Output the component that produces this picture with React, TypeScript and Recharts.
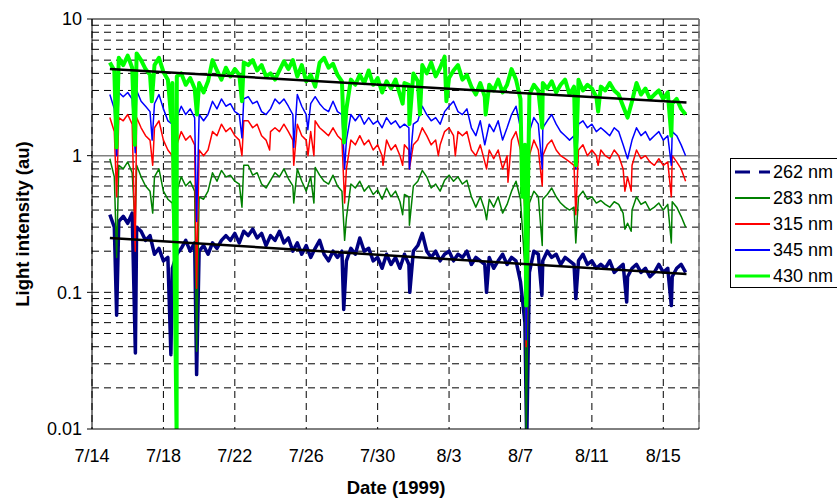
import { LineChart, Line, XAxis, YAxis, CartesianGrid, ReferenceLine } from "recharts";

// sample times, days after 7/14/1999
const days = [
  1, 1.25, 1.5, 1.75, 2, 2.25, 2.5, 2.75, 3, 3.25,
  3.5, 3.75, 4, 4.25, 4.5, 4.75, 5, 5.25, 5.5, 5.75,
  6, 6.25, 6.5, 6.75, 7, 7.25, 7.5, 7.75, 8, 8.25,
  8.5, 8.75, 9, 9.25, 9.5, 9.75, 10, 10.25, 10.5, 10.75,
  11, 11.25, 11.5, 11.75, 12, 12.25, 12.5, 12.75, 13, 13.25,
  13.5, 13.75, 14, 14.25, 14.5, 14.75, 15, 15.25, 15.5, 15.75,
  16, 16.25, 16.5, 16.75, 17, 17.25, 17.5, 17.75, 18, 18.25,
  18.5, 18.75, 19, 19.25, 19.5, 19.75, 20, 20.25, 20.5, 20.75,
  21, 21.25, 21.5, 21.75, 22, 22.25, 22.5, 22.75, 23, 23.25,
  23.5, 23.75, 24, 24.25, 24.5, 24.75, 25, 25.25, 25.5, 25.75,
  26, 26.25, 26.5, 26.75, 27, 27.25, 27.5, 27.75, 28, 28.25,
  28.5, 28.75, 29, 29.25, 29.5, 29.75, 30, 30.25, 30.5, 30.75,
  31, 31.25, 31.5, 31.75, 32, 32.25, 32.5, 32.75, 33, 33.25,
];

const nm430 = [
  4.8, 4.2, 5.2, 4.6, 5.4, 4.4, 5.6, 5.0, 4.3, 3.9,
  4.6, 5.2, 4.1, 3.6, 3.4, 3.8, 4.0, 3.3, 3.7, 3.1,
  3.4, 2.9, 3.5, 5.0, 4.2, 3.6, 4.4, 3.8, 4.3, 3.9,
  4.8, 4.6, 5.0, 4.2, 4.6, 3.8, 4.0, 3.6, 4.2, 4.9,
  4.3, 5.0, 3.8, 4.6, 3.5, 3.9, 3.2, 4.8, 5.2, 4.4,
  4.7, 3.9, 3.5, 2.2, 3.6, 3.3, 3.9, 3.4, 4.2, 3.3,
  3.7, 2.9, 3.5, 3.1, 3.6, 2.8, 3.4, 3.3, 4.0, 3.5,
  4.6, 4.0, 4.8, 3.8, 4.4, 5.3, 3.7, 4.2, 4.6, 3.6,
  3.9, 3.2, 2.8, 3.4, 2.7, 3.3, 3.0, 3.6, 2.9, 3.3,
  4.3, 3.6, 2.6, 1.2, 2.8, 3.3, 3.0, 3.4, 3.1, 3.5,
  2.9, 3.3, 3.6, 2.8, 3.2, 3.6, 3.0, 3.3, 3.1, 2.7,
  3.2, 3.0, 3.4, 3.0, 2.8, 2.3, 1.9, 2.5, 3.4, 2.8,
  3.1, 2.6, 2.8, 3.0, 2.6, 2.9, 2.4, 2.6, 2.2, 2.0,
];
const nm345 = [
  2.8, 2.2, 2.9, 2.7, 2.9, 2.6, 3.0, 2.5, 2.3, 2.1,
  2.4, 2.8, 2.2, 1.8, 1.7, 1.9, 2.3, 2.0, 2.2, 1.9,
  2.0, 1.8, 2.0, 2.5, 2.2, 2.6, 2.3, 2.4, 2.1, 2.0,
  2.6, 2.7, 2.4, 2.5, 2.1, 2.0, 2.2, 2.6, 2.4, 2.6,
  2.3, 2.0, 2.8, 2.3, 2.0, 2.4, 2.7, 2.4, 2.2, 2.1,
  2.5, 2.1, 2.0, 1.3, 2.0, 1.8, 2.0, 1.7, 1.9, 1.7,
  1.8, 1.6, 1.9, 1.7, 1.8, 1.6, 1.7, 1.6, 1.7, 1.8,
  2.3, 2.0, 1.8, 1.9, 1.7, 2.1, 2.3, 2.5, 2.1, 2.0,
  2.2, 1.6, 1.4, 1.8, 1.2, 1.7, 1.5, 1.8, 1.3, 1.6,
  2.0, 2.3, 1.6, 0.6, 1.5, 1.9, 1.7, 1.6, 1.8, 2.0,
  1.7, 1.5, 1.4, 1.3, 1.4, 1.7, 1.8, 1.6, 1.7, 1.5,
  1.6, 1.5, 1.4, 1.6, 1.5, 1.2, 0.95, 1.3, 1.6, 1.4,
  1.5, 1.3, 1.4, 1.5, 1.3, 1.4, 1.5, 1.4, 1.2, 1.0,
];
const nm315 = [
  1.9, 1.5, 1.9, 1.8, 2.0, 1.7, 1.9, 1.6, 1.4, 1.3,
  1.6, 1.8, 1.3, 1.1, 1.0, 1.2, 1.5, 1.3, 1.4, 1.2,
  1.1, 1.0, 1.1, 1.5, 1.4, 1.7, 1.5, 1.6, 1.4, 1.3,
  1.8, 1.8, 1.6, 1.7, 1.4, 1.3, 1.5, 1.6, 1.5, 1.7,
  1.5, 1.3, 1.7, 1.4, 1.3, 1.5, 1.8, 1.6, 1.5, 1.4,
  1.6, 1.4, 1.3, 0.8, 1.3, 1.2, 1.4, 1.2, 1.3, 1.1,
  1.2, 1.0, 1.3, 1.1, 1.2, 1.0, 1.2, 1.1, 1.2, 1.3,
  1.6, 1.4, 1.2, 1.3, 1.2, 1.5, 1.6, 1.4, 1.5, 1.4,
  1.5, 1.1, 1.0, 1.2, 0.9, 1.1, 0.95, 1.1, 0.8, 1.0,
  1.3, 1.5, 1.1, 0.4, 1.0, 1.3, 1.1, 1.0, 1.2, 1.3,
  1.1, 1.0, 0.95, 0.9, 0.85, 1.1, 1.2, 1.0, 1.1, 1.0,
  1.1, 1.0, 0.95, 1.1, 1.0, 0.8, 0.7, 0.85, 1.1, 0.95,
  1.0, 0.9, 0.85, 0.95, 0.85, 0.9, 1.0, 0.9, 0.8, 0.65,
];
const nm283 = [
  0.95, 0.7, 0.85, 0.8, 0.9, 0.75, 0.85, 0.7, 0.6, 0.55,
  0.7, 0.8, 0.55, 0.48, 0.45, 0.55, 0.7, 0.6, 0.65, 0.55,
  0.5, 0.48, 0.55, 0.75, 0.65, 0.78, 0.7, 0.72, 0.65, 0.62,
  0.85, 0.85, 0.72, 0.75, 0.62, 0.58, 0.66, 0.75, 0.7, 0.8,
  0.68, 0.6, 0.8, 0.65, 0.55, 0.7, 0.82, 0.72, 0.65, 0.62,
  0.72, 0.6, 0.55, 0.35, 0.62, 0.58, 0.65, 0.55, 0.6, 0.52,
  0.56, 0.48, 0.58, 0.5, 0.55, 0.46, 0.52, 0.5, 0.6, 0.65,
  0.78, 0.7, 0.58, 0.62, 0.55, 0.66, 0.72, 0.65, 0.7, 0.62,
  0.66, 0.5, 0.42, 0.5, 0.4, 0.48, 0.42, 0.5, 0.38, 0.44,
  0.55, 0.65, 0.48, 0.15, 0.45, 0.55, 0.5, 0.48, 0.52, 0.58,
  0.5, 0.45, 0.42, 0.4, 0.42, 0.5, 0.55, 0.48, 0.5, 0.45,
  0.47, 0.44, 0.42, 0.46, 0.44, 0.38, 0.32, 0.4, 0.5, 0.44,
  0.46, 0.4, 0.42, 0.45, 0.4, 0.44, 0.46, 0.42, 0.36, 0.3,
];
const nm262 = [
  0.37, 0.3, 0.33, 0.36, 0.32, 0.38, 0.3, 0.28, 0.24, 0.26,
  0.19, 0.21, 0.17, 0.18, 0.15, 0.19, 0.21, 0.24, 0.2, 0.23,
  0.2, 0.22, 0.19, 0.23, 0.21, 0.24, 0.26, 0.24, 0.27, 0.23,
  0.28, 0.26, 0.29, 0.25, 0.27, 0.22, 0.26, 0.24, 0.28, 0.23,
  0.25, 0.2, 0.23, 0.19, 0.22, 0.18, 0.21, 0.24, 0.19, 0.17,
  0.2, 0.18, 0.2, 0.17, 0.21, 0.19, 0.25, 0.2, 0.21, 0.17,
  0.18, 0.15, 0.19, 0.16, 0.18, 0.15, 0.19, 0.16, 0.2, 0.22,
  0.27, 0.2, 0.18, 0.2, 0.17, 0.19, 0.2, 0.17, 0.19, 0.18,
  0.2, 0.16, 0.18, 0.17, 0.16, 0.18, 0.15, 0.17, 0.19, 0.16,
  0.18, 0.17, 0.12, 0.06, 0.14, 0.2, 0.19, 0.17, 0.2, 0.18,
  0.19, 0.16, 0.18, 0.17, 0.16, 0.17, 0.19, 0.16, 0.17, 0.15,
  0.16, 0.15, 0.17, 0.14, 0.15, 0.16, 0.13, 0.15, 0.16, 0.14,
  0.15, 0.13, 0.14, 0.16, 0.14, 0.15, 0.13, 0.15, 0.16, 0.14,
];

// short drops between samples: [day, value]
const dips430 = [
  [1.37, 1.15], [2.4, 1.2], [3.35, 2.5], [4.45, 1.8], [4.74, 0.009], [5.88, 2.0],
  [8.4, 2.5], [14.12, 1.25], [17.4, 2.4], [17.78, 1.7], [18.37, 2.0], [19.85, 2.5],
  [22.05, 2.0], [24.1, 0.5], [24.32, 0.08], [25.22, 1.6], [27.1, 0.85], [28.35, 2.1],
  [32.45, 1.4],
];
const dips345 = [
  [1.38, 1.0], [2.42, 1.05], [3.37, 1.3], [4.52, 0.95], [5.86, 0.33], [8.4, 1.35],
  [11.3, 1.15], [12.09, 1.55], [14.15, 0.8], [17.78, 0.8], [24.32, 0.045], [25.22, 0.8],
  [27.1, 0.8], [32.45, 0.85],
];
const dips315 = [
  [1.38, 0.5], [2.42, 0.2], [3.4, 0.85], [4.52, 0.6], [5.86, 0.107], [8.4, 1.0],
  [9.95, 1.1], [11.3, 0.85], [12.1, 1.0], [12.43, 1.0], [14.15, 0.45], [16.3, 0.85],
  [17.4, 0.85], [17.78, 0.8], [19.4, 1.0], [20.35, 1.0], [22.1, 0.8], [23.3, 0.64],
  [24.32, 0.04], [25.22, 0.6], [27.1, 0.37], [28.35, 0.85], [29.85, 0.55], [30.2, 0.55],
  [32.45, 0.5],
];
const dips283 = [
  [1.38, 0.18], [2.42, 0.3], [3.4, 0.38], [4.52, 0.38], [5.86, 0.037], [8.4, 0.42],
  [11.3, 0.45], [12.43, 0.45], [14.15, 0.24], [17.4, 0.37], [17.78, 0.31], [22.1, 0.34],
  [24.32, 0.009], [25.22, 0.22], [27.1, 0.23], [29.85, 0.29], [30.2, 0.28], [32.45, 0.23],
];
const dips262 = [
  [1.38, 0.068], [2.43, 0.036], [4.42, 0.035], [5.86, 0.025], [14.1, 0.075], [17.8, 0.1],
  [22.1, 0.1], [24.35, 0.008], [25.2, 0.095], [27.1, 0.09], [29.95, 0.085], [32.45, 0.08],
];

// exponential fits (straight on the log axis)
const fit430 = [{ d: 1, v: 4.3 }, { d: 33.3, v: 2.45 }];
const fit262 = [{ d: 1, v: 0.25 }, { d: 33.3, v: 0.136 }];

const tickDays = [0, 4, 8, 12, 16, 20, 24, 28, 32];
const tickLabels = ["7/14", "7/18", "7/22", "7/26", "7/30", "8/3", "8/7", "8/11", "8/15"];
const yTicks = [0.01, 0.1, 1, 10];
const yTickLabels = ["0.01", "0.1", "1", "10"];
const minorGrid = [
  0.02, 0.03, 0.04, 0.05, 0.06, 0.07, 0.08, 0.09, 0.1,
  0.2, 0.3, 0.4, 0.5, 0.6, 0.7, 0.8, 0.9,
  2, 3, 4, 5, 6, 7, 8, 9,
];

const FONT = "Arial, 'Liberation Sans', sans-serif";

function toPoints(values: number[], dips: number[][]) {
  const pts = values.map((v, i) => ({ d: days[i], v }));
  dips.forEach(([d, v]) => pts.push({ d, v }));
  return pts.sort((a, b) => a.d - b.d);
}

const series = [
  { name: "262 nm", data: toPoints(nm262, dips262), color: "#000080", width: 3.5, dash: "15 9", legendWidth: 3 },
  { name: "283 nm", data: toPoints(nm283, dips283), color: "#008000", width: 1.5, dash: undefined, legendWidth: 2 },
  { name: "315 nm", data: toPoints(nm315, dips315), color: "#ff0000", width: 1.5, dash: undefined, legendWidth: 2 },
  { name: "345 nm", data: toPoints(nm345, dips345), color: "#0000ff", width: 1.5, dash: undefined, legendWidth: 2 },
  { name: "430 nm", data: toPoints(nm430, dips430), color: "#00ff00", width: 4, dash: undefined, legendWidth: 3 },
];

function ChartLegend() {
  return (
    <svg
      width={107}
      height={131}
      style={{ position: "absolute", left: 730, top: 158, overflow: "visible" }}
    >
      <rect x={0.5} y={0.5} width={120} height={129} fill="#fff" stroke="#000" strokeWidth={1} />
      {series.map((s, i) => {
        const y = 14 + i * 26;
        return (
          <g key={s.name}>
            <line x1={5} x2={40} y1={y} y2={y} stroke={s.color} strokeWidth={s.legendWidth} strokeDasharray={s.dash} />
            <text x={43} y={y} dominantBaseline="central" fontSize={18} fontFamily={FONT} fill="#000">
              {s.name}
            </text>
          </g>
        );
      })}
    </svg>
  );
}

export default function App() {
  return (
    <div style={{ position: "absolute", left: 0, top: 0, width: 837, height: 498, background: "#fff", overflow: "hidden" }}>
      <LineChart width={837} height={498} margin={{ top: 19, right: 138, bottom: 0, left: 0 }}>
        <CartesianGrid horizontal={false} stroke="#000" strokeDasharray="7 5" />
        {minorGrid.map((v) => (
          <ReferenceLine key={v} y={v} stroke="#000" strokeDasharray="7 5" />
        ))}
        <ReferenceLine y={1} stroke="#808080" strokeWidth={1.5} />
        <ReferenceLine y={10} stroke="#000" strokeWidth={1} />
        <ReferenceLine x={34} stroke="#808080" strokeWidth={1.5} />
        <XAxis
          type="number"
          dataKey="d"
          domain={[0, 34]}
          ticks={tickDays}
          tickFormatter={(v: number) => tickLabels[tickDays.indexOf(v)]}
          tickLine={false}
          tickSize={0}
          tickMargin={20}
          height={69}
          axisLine={{ stroke: "#000" }}
          tick={{ fill: "#000", fontSize: 18, fontFamily: FONT }}
        />
        <YAxis
          type="number"
          scale="log"
          domain={[0.01, 10]}
          allowDataOverflow
          ticks={yTicks}
          tickFormatter={(v: number) => yTickLabels[yTicks.indexOf(v)]}
          width={92}
          tickSize={5}
          tickMargin={5}
          axisLine={{ stroke: "#000" }}
          tickLine={{ stroke: "#000" }}
          tick={{ fill: "#000", fontSize: 18, fontFamily: FONT }}
        />
        {series.map((s) => (
          <Line
            key={s.name}
            data={s.data}
            dataKey="v"
            type="linear"
            stroke={s.color}
            strokeWidth={s.width}
            strokeLinejoin="round"
            dot={false}
            activeDot={false}
            isAnimationActive={false}
          />
        ))}
        <Line data={fit430} dataKey="v" stroke="#000" strokeWidth={2.5} dot={false} activeDot={false} isAnimationActive={false} />
        <Line data={fit262} dataKey="v" stroke="#000" strokeWidth={2.5} dot={false} activeDot={false} isAnimationActive={false} />
      </LineChart>
      <svg width={837} height={498} style={{ position: "absolute", left: 0, top: 0, pointerEvents: "none" }}>
        <text
          x={22}
          y={224}
          transform="rotate(-90 22 224)"
          textAnchor="middle"
          dominantBaseline="central"
          fontSize={18.5}
          fontWeight="bold"
          fontFamily={FONT}
          fill="#000"
        >
          Light intensity (au)
        </text>
        <text
          x={396}
          y={487}
          textAnchor="middle"
          dominantBaseline="central"
          fontSize={18.5}
          fontWeight="bold"
          fontFamily={FONT}
          fill="#000"
        >
          Date (1999)
        </text>
      </svg>
      <ChartLegend />
    </div>
  );
}
